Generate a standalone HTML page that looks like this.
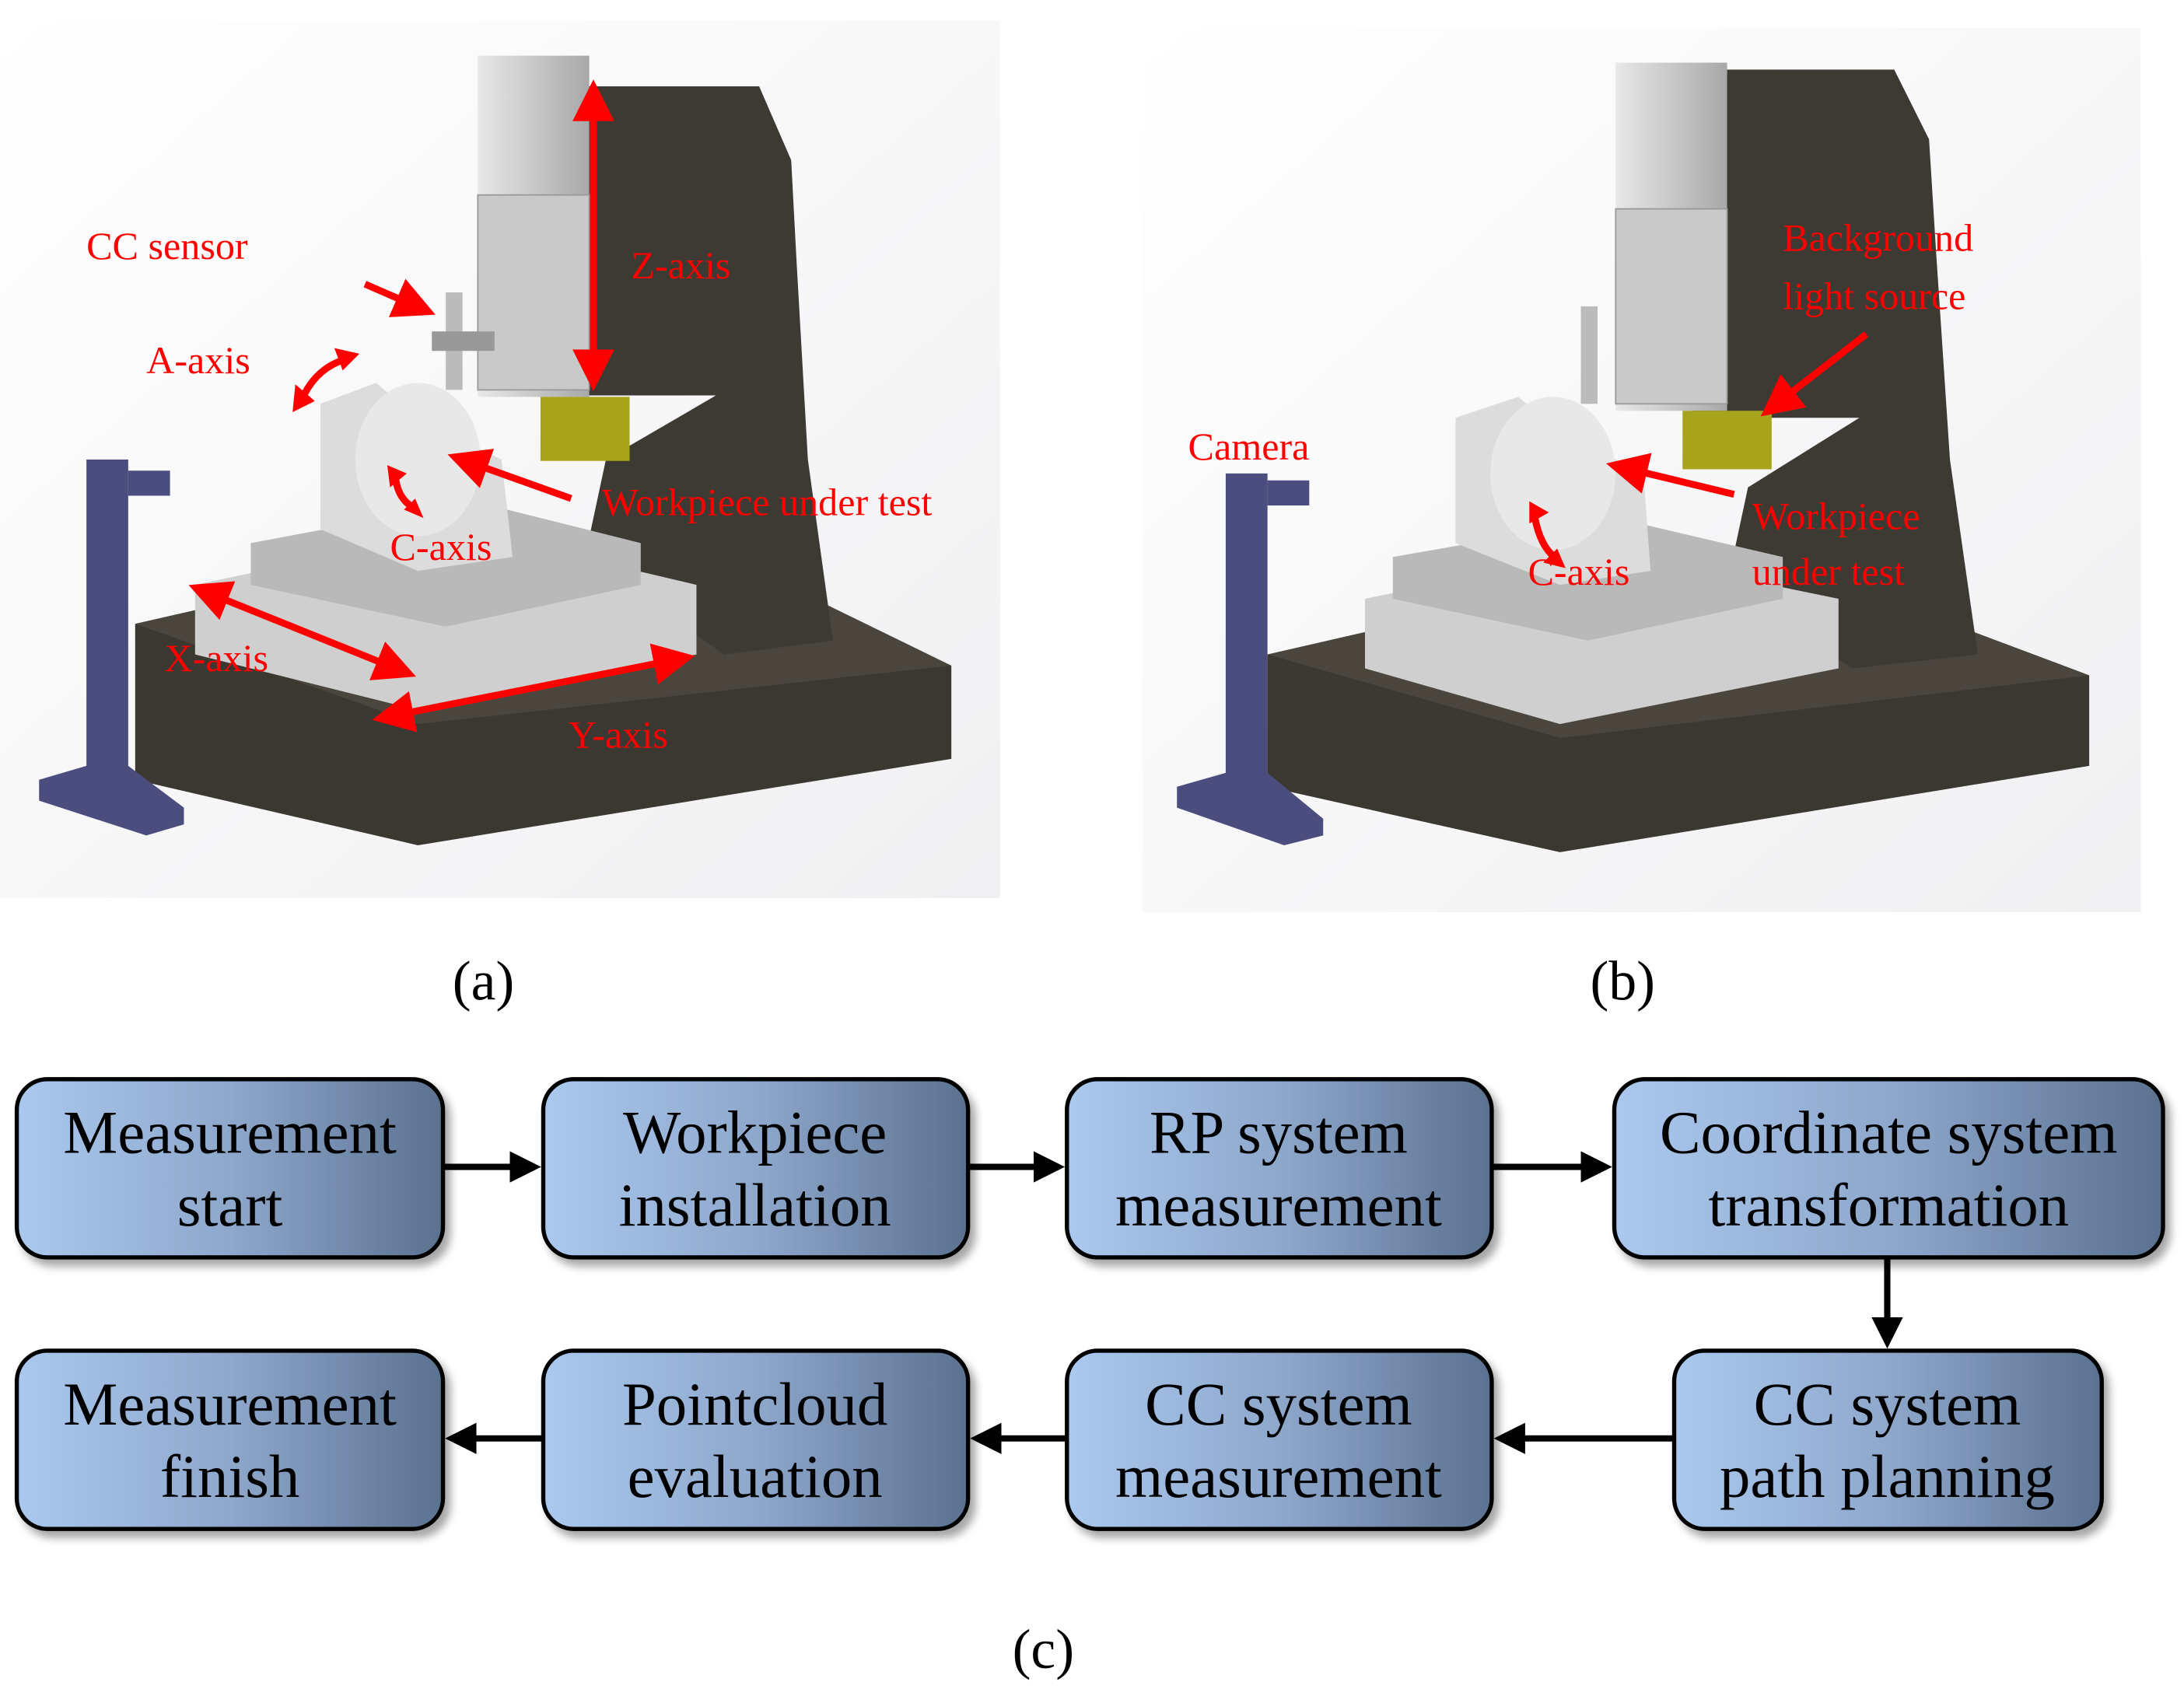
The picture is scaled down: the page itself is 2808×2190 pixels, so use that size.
<!DOCTYPE html>
<html><head><meta charset="utf-8"><style>
html,body{margin:0;padding:0;background:#fff;}
svg{display:block;}
svg text{font-family:"Liberation Serif",serif;}
</style></head><body>
<svg width="2808" height="2190" viewBox="0 0 1568 1223" xmlns="http://www.w3.org/2000/svg" font-family="'Liberation Serif', serif">
<defs>
<linearGradient id="bx" x1="0" x2="1" y1="0" y2="0"><stop offset="0" stop-color="#abc8ee"/><stop offset="0.5" stop-color="#8ea8cc"/><stop offset="1" stop-color="#5b7190"/></linearGradient>
<linearGradient id="bg" x1="0" x2="1" y1="0" y2="1"><stop offset="0" stop-color="#ffffff"/><stop offset="1" stop-color="#f0f0f2"/></linearGradient>
<linearGradient id="met" x1="0" x2="1"><stop offset="0" stop-color="#e8e8e8"/><stop offset="1" stop-color="#a8a8a8"/></linearGradient>
<filter id="sh" x="-10%" y="-10%" width="130%" height="140%"><feDropShadow dx="4" dy="5" stdDeviation="3" flood-color="#000" flood-opacity="0.35"/></filter>
<marker id="ar" markerWidth="6" markerHeight="6" refX="5" refY="3" orient="auto" markerUnits="strokeWidth"><path d="M0,0 L6,3 L0,6 z" fill="#f00"/></marker>
<marker id="as" markerWidth="6" markerHeight="6" refX="1" refY="3" orient="auto" markerUnits="strokeWidth"><path d="M6,0 L0,3 L6,6 z" fill="#f00"/></marker>
<marker id="ak" markerWidth="5" markerHeight="5" refX="4" refY="2.5" orient="auto" markerUnits="strokeWidth"><path d="M0,0 L5,2.5 L0,5 z" fill="#000"/></marker>
</defs>

<!-- Panel a -->
<rect x="0" y="15" width="718" height="630" fill="url(#bg)"/>
<polygon points="97,448 330,395 560,418 683,478 683,545 300,607 97,560" fill="#3b3731"/>
<polygon points="97,448 330,395 560,418 683,478 300,520" fill="#4a453d"/>
<polygon points="394,62 545,62 568,115 572,190 580,330 598,460 520,470 420,400 435,330 514,284 400,284" fill="#3d3933"/>
<rect x="343" y="40" width="80" height="245" fill="url(#met)"/>
<rect x="343" y="140" width="80" height="140" fill="#c9c9c9" stroke="#999"/>
<rect x="388" y="285" width="64" height="46" fill="#a7a41c"/>
<rect x="320" y="210" width="12" height="70" fill="#bbb"/>
<rect x="310" y="238" width="45" height="14" fill="#999"/>
<polygon points="140,420 330,380 500,420 500,470 300,510 140,470" fill="#cfcfcf"/>
<polygon points="180,390 340,360 460,390 460,420 320,450 180,420" fill="#b9b9b9"/>
<polygon points="230,290 270,275 300,300 360,330 368,400 300,410 230,380" fill="#dcdcdc"/>
<ellipse cx="300" cy="330" rx="45" ry="55" fill="#e8e8e8"/>
<rect x="62" y="330" width="30" height="230" fill="#4b4d7f"/>
<rect x="92" y="338" width="30" height="18" fill="#4b4d7f"/>
<polygon points="28,560 62,550 92,550 132,580 132,592 105,600 28,575" fill="#4b4d7f"/>
<g fill="#f00" font-size="28">
<text x="62" y="186">CC sensor</text>
<text x="105" y="268">A-axis</text>
<text x="453" y="200">Z-axis</text>
<text x="432" y="370">Workpiece  under  test</text>
<text x="280" y="402">C-axis</text>
<text x="118" y="482">X-axis</text>
<text x="408" y="537">Y-axis</text>
</g>
<g stroke="#f00" stroke-width="5" fill="none">
<line x1="426" y1="62" x2="426" y2="276" marker-end="url(#ar)" marker-start="url(#as)"/>
<line x1="140" y1="422" x2="294" y2="484" marker-end="url(#ar)" marker-start="url(#as)"/>
<line x1="272" y1="516" x2="494" y2="472" marker-end="url(#ar)" marker-start="url(#as)"/>
<line x1="262" y1="204" x2="308" y2="224" marker-end="url(#ar)"/>
<line x1="410" y1="358" x2="326" y2="328" marker-end="url(#ar)"/>
<path d="M218,284 Q228,264 248,258"/>
<path d="M284,344 Q286,358 296,364"/>
</g>
<g fill="#f00">
<polygon points="210,296 212,276 226,288"/>
<polygon points="258,254 240,250 246,266"/>
<polygon points="278,334 292,340 280,350"/>
<polygon points="304,372 290,366 298,358"/>
</g>

<!-- Panel b -->
<rect x="820" y="20" width="717" height="635" fill="url(#bg)"/>
<polygon points="910,470 1150,415 1380,440 1500,485 1500,550 1120,612 910,565" fill="#3b3731"/>
<polygon points="910,470 1150,415 1380,440 1500,485 1120,530" fill="#4a453d"/>
<polygon points="1210,50 1360,50 1385,100 1390,180 1400,330 1420,470 1330,480 1240,420 1255,350 1335,300 1215,300" fill="#3d3933"/>
<rect x="1160" y="45" width="80" height="250" fill="url(#met)"/>
<rect x="1160" y="150" width="80" height="140" fill="#c9c9c9" stroke="#999"/>
<rect x="1208" y="295" width="64" height="42" fill="#a7a41c"/>
<rect x="1135" y="220" width="12" height="70" fill="#bbb"/>
<polygon points="980,430 1150,395 1320,430 1320,480 1120,520 980,480" fill="#cfcfcf"/>
<polygon points="1000,400 1160,372 1280,400 1280,430 1140,460 1000,430" fill="#b9b9b9"/>
<polygon points="1045,300 1090,285 1120,310 1180,340 1185,410 1120,420 1045,390" fill="#dcdcdc"/>
<ellipse cx="1115" cy="340" rx="45" ry="55" fill="#e8e8e8"/>
<rect x="880" y="340" width="30" height="230" fill="#4b4d7f"/>
<rect x="910" y="345" width="30" height="18" fill="#4b4d7f"/>
<polygon points="845,565 880,555 910,555 950,588 950,600 922,607 845,580" fill="#4b4d7f"/>
<g fill="#f00" font-size="28">
<text x="1280" y="180">Background</text>
<text x="1280" y="222">light source</text>
<text x="853" y="330">Camera</text>
<text x="1258" y="380">Workpiece</text>
<text x="1258" y="420">under test</text>
<text x="1097" y="420">C-axis</text>
</g>
<g stroke="#f00" stroke-width="5" fill="none">
<line x1="1340" y1="240" x2="1268" y2="296" marker-end="url(#ar)"/>
<line x1="1245" y1="355" x2="1158" y2="334" marker-end="url(#ar)"/>
<path d="M1102,372 Q1106,392 1116,400"/>
</g>
<g fill="#f00">
<polygon points="1098,360 1112,368 1098,376"/>
<polygon points="1124,408 1108,404 1118,394"/>
</g>

<g font-size="40" text-anchor="middle" fill="#000">
<text x="347" y="718">(a)</text>
<text x="1165" y="718">(b)</text>
<text x="749" y="1198">(c)</text>
</g>

<!-- flowchart -->
<g stroke="#000" stroke-width="4.5" fill="none">
<line x1="318" y1="838" x2="384" y2="838" marker-end="url(#ak)"/>
<line x1="695" y1="838" x2="760" y2="838" marker-end="url(#ak)"/>
<line x1="1071" y1="838" x2="1153" y2="838" marker-end="url(#ak)"/>
<line x1="1355" y1="903" x2="1355" y2="964" marker-end="url(#ak)"/>
<line x1="1202" y1="1033" x2="1077" y2="1033" marker-end="url(#ak)"/>
<line x1="766" y1="1033" x2="701" y2="1033" marker-end="url(#ak)"/>
<line x1="390" y1="1033" x2="324" y2="1033" marker-end="url(#ak)"/>
</g>
<g fill="url(#bx)" stroke="#000" stroke-width="3" filter="url(#sh)">
<rect x="12" y="775" width="306" height="128" rx="22"/>
<rect x="390" y="775" width="305" height="128" rx="22"/>
<rect x="766" y="775" width="305" height="128" rx="22"/>
<rect x="1159" y="775" width="394" height="128" rx="22"/>
<rect x="12" y="970" width="306" height="128" rx="22"/>
<rect x="390" y="970" width="305" height="128" rx="22"/>
<rect x="766" y="970" width="305" height="128" rx="22"/>
<rect x="1202" y="970" width="307" height="128" rx="22"/>
</g>
<g font-size="44" text-anchor="middle" fill="#000">
<text x="165" y="828">Measurement</text><text x="165" y="880">start</text>
<text x="542" y="828">Workpiece</text><text x="542" y="880">installation</text>
<text x="918" y="828">RP system</text><text x="918" y="880">measurement</text>
<text x="1356" y="828">Coordinate system</text><text x="1356" y="880">transformation</text>
<text x="165" y="1023">Measurement</text><text x="165" y="1075">finish</text>
<text x="542" y="1023">Pointcloud</text><text x="542" y="1075">evaluation</text>
<text x="918" y="1023">CC system</text><text x="918" y="1075">measurement</text>
<text x="1355" y="1023">CC system</text><text x="1355" y="1075">path planning</text>
</g>
</svg>
</body></html>
